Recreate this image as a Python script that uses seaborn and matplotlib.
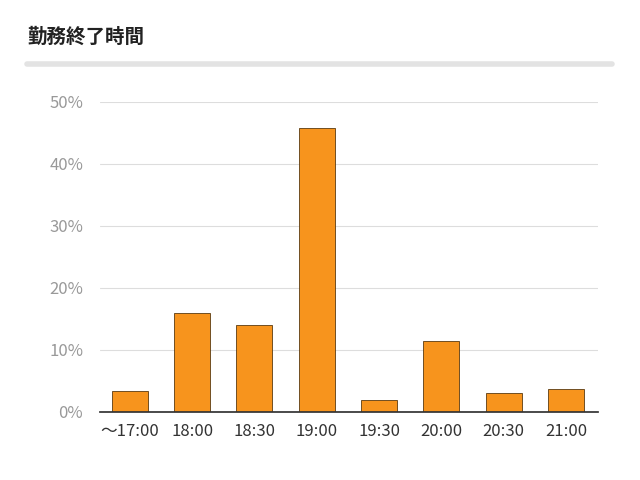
import matplotlib
matplotlib.use("Agg")
import matplotlib.pyplot as plt
import seaborn as sns
import pandas as pd

categories = ["～17:00", "18:00", "18:30", "19:00", "19:30", "20:00", "20:30", "21:00"]
values = [3.4, 16.0, 14.0, 45.8, 1.9, 11.5, 3.1, 3.7]

sns.set_theme(style="white")
plt.rcParams['font.family'] = ['Noto Sans CJK JP', 'DejaVu Sans']

df = pd.DataFrame({"time": categories, "pct": values})

fig = plt.figure(figsize=(6.4, 4.8), dpi=100)
ax = fig.add_axes([0.156, 0.142, 0.778, 0.646])
sns.barplot(data=df, x="time", y="pct", color="#f7941d", saturation=1,
            width=0.58, edgecolor="#5a3a10", linewidth=0.6, ax=ax)

ax.set_ylim(0, 50)
ax.set_xlim(-0.48, 7.51)
ax.set_yticks(range(0, 51, 10))
ax.set_yticklabels([f"{v}%" for v in range(0, 51, 10)])
ax.yaxis.grid(True, color="#dddddd", linewidth=0.8)
ax.set_axisbelow(True)
for s in ["left", "right", "top"]:
    ax.spines[s].set_visible(False)
ax.spines["bottom"].set_color("#333333")
ax.tick_params(axis="y", colors="#999999", labelsize=12, length=0, pad=12)
ax.tick_params(axis="x", colors="#333333", labelsize=12, length=0, pad=8)
ax.set_xlabel("")
ax.set_ylabel("")

fig.text(0.042, 0.91, "勤務終了時間", fontsize=14, fontweight="bold", color="#222222")
fig.add_artist(plt.Line2D([0.042, 0.956], [0.866, 0.866], color="#e3e3e3",
                          linewidth=4, transform=fig.transFigure))

fig.savefig("out.png", dpi=100)
